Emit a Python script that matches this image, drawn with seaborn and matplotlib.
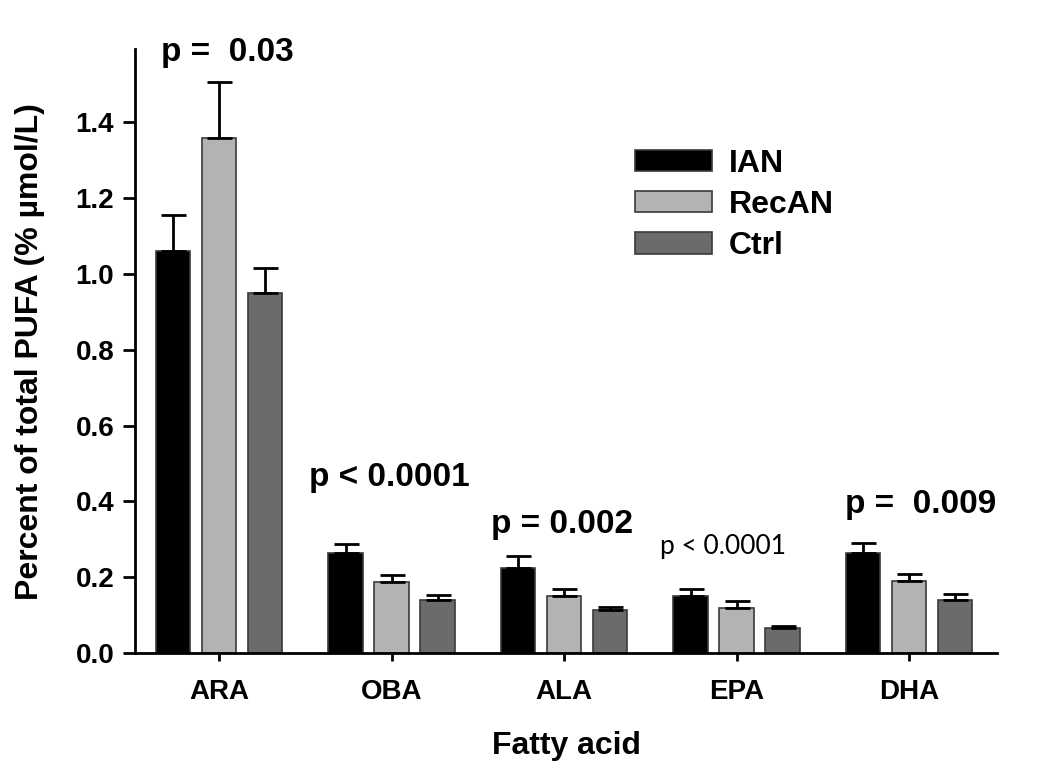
import matplotlib
matplotlib.use('Agg')
import matplotlib.pyplot as plt
import pandas as pd
import seaborn as sns
import numpy as np

# Data
acids = ['ARA', 'OBA', 'ALA', 'EPA', 'DHA']
groups = ['IAN', 'RecAN', 'Ctrl']
ian_mean = [1.062, 0.264, 0.225, 0.151, 0.264]
ian_err = [0.093, 0.024, 0.031, 0.018, 0.026]
recan_mean = [1.358, 0.188, 0.151, 0.119, 0.190]
recan_err = [0.148, 0.018, 0.018, 0.018, 0.019]
ctrl_mean = [0.951, 0.140, 0.114, 0.066, 0.140]
ctrl_err = [0.066, 0.013, 0.008, 0.004, 0.016]
p_labels = ['p =  0.03', 'p < 0.0001', 'p = 0.002', 'p < 0.0001', 'p =  0.009']

sns.set_style('ticks')
plt.rcParams['font.family'] = ['Liberation Sans', 'DejaVu Sans']
plt.rcParams['font.weight'] = 'bold'
plt.rcParams['axes.labelweight'] = 'bold'
for k in ['text.color', 'axes.labelcolor', 'xtick.color', 'ytick.color', 'axes.edgecolor']:
    plt.rcParams[k] = 'black'

df = pd.DataFrame({
    'acid': acids * 3,
    'group': [g for g in groups for _ in acids],
    'value': ian_mean + recan_mean + ctrl_mean,
})
errs = [ian_err, recan_err, ctrl_err]
colors = ['#000000', '#b3b3b3', '#6b6b6b']

fig = plt.figure(figsize=(10.5, 7.82), dpi=100)
ax = fig.add_axes([0.1286, 0.165, 0.8209, 0.772])

sns.barplot(data=df, x='acid', y='value', hue='group', order=acids, hue_order=groups,
            palette=colors, width=0.8, gap=0.25, errorbar=None,
            edgecolor='#3a3a3a', linewidth=1.2, ax=ax)

# upper error bars only
for cont, err in zip(ax.containers, errs):
    xs = [p.get_x() + p.get_width() / 2 for p in cont.patches]
    ys = [p.get_height() for p in cont.patches]
    ax.errorbar(xs, ys, yerr=[np.zeros(len(err)), err], fmt='none', ecolor='black',
                elinewidth=2, capsize=9, capthick=2, zorder=1)

# p-value annotations
p_pos = [(0.05, 1.585), (-0.01, 0.462), (-0.01, 0.338), (-0.08, 0.28), (0.07, 0.391)]
for i, (lab, (dx, y)) in enumerate(zip(p_labels, p_pos)):
    if i == 3:
        ax.text(i + dx, y, lab, ha='center', va='center', fontsize=19,
                fontweight='normal', family=['Lato', 'DejaVu Sans'], clip_on=False)
    else:
        ax.text(i + dx, y, lab, ha='center', va='center', fontsize=24,
                fontweight='bold', clip_on=False)

ax.set_ylim(0, 1.593)
ax.set_xlim(-0.487, 4.51)
ax.set_yticks(np.arange(0, 1.41, 0.2))
ax.set_yticklabels([f'{v:.1f}' for v in np.arange(0, 1.41, 0.2)])
sns.despine(ax=ax)
for s in ['left', 'bottom']:
    ax.spines[s].set_linewidth(2)
ax.tick_params(axis='y', direction='out', length=9, width=2, labelsize=20, pad=6)
ax.tick_params(axis='x', direction='out', length=6, width=2, labelsize=20, pad=13)

ax.set_xlabel('Fatty acid', fontsize=23)
ax.set_ylabel('Percent of total PUFA (% µmol/L)', fontsize=23)
ax.xaxis.set_label_coords(0.5, -0.13)
ax.yaxis.set_label_coords(-0.105, 0.5)

handles, labels = ax.get_legend_handles_labels()
ax.legend(handles=handles, labels=labels, loc='upper left', bbox_to_anchor=(0.58, 0.835),
          frameon=False, fontsize=23, handlelength=2.4, handleheight=0.65,
          handletextpad=0.55, labelspacing=0.35, borderpad=0, borderaxespad=0)

fig.savefig('out.png', dpi=100)
